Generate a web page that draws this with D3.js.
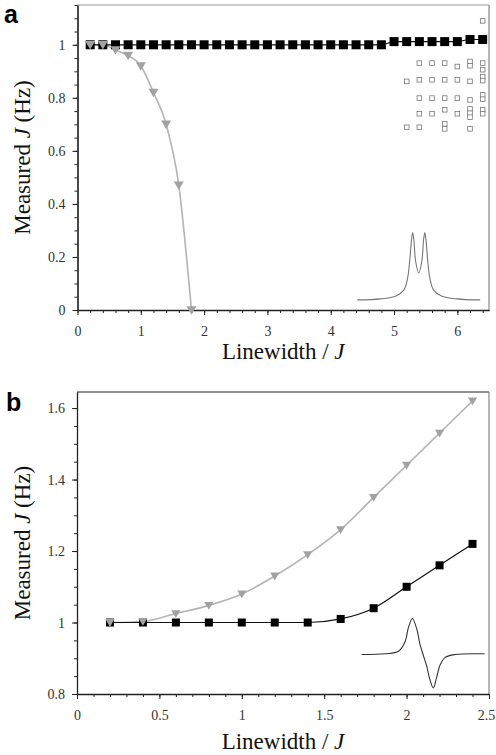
<!DOCTYPE html>
<html>
<head>
<meta charset="utf-8">
<script src="https://cdn.jsdelivr.net/npm/d3@7"></script>
<style>
  html, body { margin: 0; padding: 0; background: #fff; }
  .axis path, .axis line { stroke: #222; }
  .title { font-family: "Liberation Serif", serif; font-size: 23px; fill: #111; }
  .letter { font-family: "Liberation Sans", Arial, sans-serif; font-size: 25px; font-weight: bold; fill: #000; }
</style>
</head>
<body>
<div id="chart"></div>
<script>
// ---- panel a data ----
const aX = [0.2,0.4,0.6,0.8,1.0,1.2,1.4,1.6,1.8,2.0,2.2,2.4,2.6,2.8,3.0,3.2,3.4,3.6,3.8,4.0,4.2,4.4,4.6,4.8,5.0,5.2,5.4,5.6,5.8,6.0,6.2,6.4];
const aSquares = [1,1,1,1,1,1,1,1,1,1,1,1,1,1,1,1,1,1,1,1,1,1,1,1,1.012,1.012,1.012,1.012,1.012,1.012,1.02,1.02];
const aTriX = [0.2,0.4,0.6,0.8,1.0,1.2,1.4,1.6,1.8];
const aTri = [1,1,0.98,0.96,0.92,0.82,0.70,0.47,0];
const aOpenX = [6.4,
  5.4,5.6,5.8,6.0,6.2,6.2,6.4,6.4,
  5.2,5.4,5.6,5.8,6.0,6.2,6.4,6.4,
  5.4,5.6,5.8,6.0,6.2,6.4,6.4,
  5.4,5.6,5.8,6.0,6.2,6.2,6.2,6.4,6.4,
  5.2,5.4,5.8,5.8,6.2];
const aOpenY = [1.09,
  0.931,0.931,0.931,0.918,0.937,0.921,0.931,0.906,
  0.862,0.868,0.868,0.868,0.868,0.862,0.880,0.865,
  0.799,0.799,0.799,0.799,0.792,0.811,0.795,
  0.740,0.740,0.755,0.740,0.758,0.742,0.727,0.755,0.740,
  0.689,0.689,0.702,0.683,0.683];
const aYTicks = [0,0.2,0.4,0.6,0.8,1];
const aYLabels = ["0","0.2","0.4","0.6","0.8","1"];
const aXTicks = [0,1,2,3,4,5,6];
const aXLabels = ["0","1","2","3","4","5","6"];
const aInsetFreq = [-10,-6.2,-3.7,-2.4,-1.8,-1.45,-1.2,-1.0,-0.8,-0.5,0,0.5,0.8,1.0,1.2,1.45,1.8,2.4,3.7,6.2,10];
const aInsetInt = [0,0.015,0.06,0.15,0.33,0.6,0.87,1.0,0.9,0.57,0.40,0.57,0.9,1.0,0.87,0.6,0.33,0.15,0.06,0.015,0];

// ---- panel b data ----
const bX = [0.2,0.4,0.6,0.8,1.0,1.2,1.4,1.6,1.8,2.0,2.2,2.4];
const bSquares = [1,1,1,1,1,1,1,1.01,1.04,1.10,1.16,1.22];
const bTri = [1.0,1.003,1.025,1.048,1.08,1.13,1.19,1.26,1.35,1.44,1.53,1.62];
const bYTicks = [0.8,1,1.2,1.4,1.6];
const bYLabels = ["0.8","1","1.2","1.4","1.6"];
const bXTicks = [0,0.5,1,1.5,2,2.5];
const bXLabels = ["0","0.5","1","1.5","2","2.5"];
const bInsetFreq = [-10,-6.2,-4.0,-2.9,-2.4,-1.74,-1.0,-0.5,0,0.6,1.1,1.67,2.2,2.8,3.6,5.2,10];
const bInsetInt = [0,0.02,0.09,0.37,0.74,1.0,0.69,0.28,0,-0.33,-0.69,-0.93,-0.64,-0.28,-0.08,0,0.02];

const W = 496, H = 755;
const svg = d3.select("#chart").append("svg")
  .attr("width", W).attr("height", H);

function range(a, b, step) {
  const out = [];
  for (let v = a; v <= b + 1e-9; v += step) out.push(+v.toFixed(3));
  return out;
}

function styleAxis(sel) {
  sel.attr("font-family", "'Liberation Serif', serif").attr("font-size", 14);
  sel.selectAll("text").attr("fill", "#333");
  sel.select(".domain").attr("stroke-width", 1.3);
}

function drawPanel(cfg) {
  const x = d3.scaleLinear().domain(cfg.xDomain).range([cfg.left, cfg.right]);
  const y = d3.scaleLinear().domain(cfg.yDomain).range([cfg.bottom, cfg.top]);
  const g = svg.append("g");

  // frame (top / right)
  g.append("line").attr("x1", cfg.left).attr("x2", cfg.right).attr("y1", cfg.top).attr("y2", cfg.top)
    .attr("stroke", cfg.topColor).attr("stroke-width", 1.2);
  g.append("line").attr("x1", cfg.right).attr("x2", cfg.right).attr("y1", cfg.top).attr("y2", cfg.bottom)
    .attr("stroke", "#888").attr("stroke-width", 1.2);

  // minor ticks
  g.append("g").attr("class", "axis").attr("transform", `translate(0,${cfg.bottom})`)
    .call(d3.axisBottom(x).tickValues(cfg.xMinor).tickSize(3).tickSizeOuter(0).tickFormat(""));
  g.append("g").attr("class", "axis").attr("transform", `translate(${cfg.left},0)`)
    .call(d3.axisLeft(y).tickValues(cfg.yMinor).tickSize(3).tickSizeOuter(0).tickFormat(""));

  // major ticks
  const xAx = g.append("g").attr("class", "axis").attr("transform", `translate(0,${cfg.bottom})`)
    .call(d3.axisBottom(x).tickValues(cfg.xTicks).tickSize(5).tickSizeOuter(0).tickPadding(11)
      .tickFormat((d, i) => cfg.xLabels[i]))
    .call(styleAxis);
  // keep the last label inside the picture
  xAx.selectAll(".tick:last-of-type text").attr("dx", cfg.lastLabelDx || 0);
  g.append("g").attr("class", "axis").attr("transform", `translate(${cfg.left},0)`)
    .call(d3.axisLeft(y).tickValues(cfg.yTicks).tickSize(5).tickSizeOuter(0).tickPadding(7)
      .tickFormat((d, i) => cfg.yLabels[i]))
    .call(styleAxis);

  // inset spectrum
  const ix = d3.scaleLinear().domain([-10, 10]).range([x(cfg.inset.x0), x(cfg.inset.x1)]);
  const iy = d3.scaleLinear().domain([0, 1]).range([y(cfg.inset.y0), y(cfg.inset.y1)]);
  g.append("path")
    .datum(cfg.inset.freq.map((f, i) => [f, cfg.inset.int[i]]))
    .attr("fill", "none").attr("stroke", cfg.inset.color).attr("stroke-width", 1.1)
    .attr("d", d3.line().x(d => ix(d[0])).y(d => iy(d[1])).curve(d3.curveCatmullRom.alpha(0.5)));

  const sq = cfg.sqX.map((v, i) => [v, cfg.sq[i]]);
  const tri = cfg.triX.map((v, i) => [v, cfg.tri[i]]);
  const line = d3.line().x(d => x(d[0])).y(d => y(d[1])).curve(d3.curveMonotoneX);

  g.append("path").datum(tri).attr("fill", "none").attr("stroke", "#b4b4b4").attr("stroke-width", 1.6).attr("d", line);
  g.append("path").datum(sq).attr("fill", "none").attr("stroke", "#111").attr("stroke-width", 1.2).attr("d", line);

  const s = cfg.sqSize;
  g.selectAll(null).data(sq).enter().append("rect")
    .attr("x", d => x(d[0]) - s / 2).attr("y", d => y(d[1]) - s / 2)
    .attr("width", s).attr("height", s).attr("fill", "#000");

  const t = cfg.triSize;
  g.selectAll(null).data(tri).enter().append("path")
    .attr("transform", d => `translate(${x(d[0])},${y(d[1])})`)
    .attr("d", `M${-t},${-t * 0.75}L${t},${-t * 0.75}L0,${t * 0.95}Z`)
    .attr("fill", "#a2a2a2");

  if (cfg.openX) {
    const o = 4.6;
    g.selectAll(null).data(cfg.openX.map((v, i) => [v, cfg.openY[i]])).enter().append("rect")
      .attr("x", d => x(d[0]) - o / 2).attr("y", d => y(d[1]) - o / 2)
      .attr("width", o).attr("height", o)
      .attr("fill", "#fff").attr("stroke", "#777").attr("stroke-width", 0.8);
  }

  // axis titles
  const yt = svg.append("text").attr("class", "title")
    .attr("text-anchor", "middle")
    .attr("transform", `translate(30,${(cfg.top + cfg.bottom) / 2}) rotate(-90)`);
  yt.append("tspan").text("Measured ");
  yt.append("tspan").attr("font-style", "italic").text("J");
  yt.append("tspan").text(" (Hz)");

  const xt = svg.append("text").attr("class", "title")
    .attr("text-anchor", "middle")
    .attr("x", (cfg.left + cfg.right) / 2).attr("y", cfg.xTitleY);
  xt.append("tspan").text("Linewidth / ");
  xt.append("tspan").attr("font-style", "italic").text("J");

  svg.append("text").attr("class", "letter").attr("x", cfg.letterX).attr("y", cfg.letterY).text(cfg.letter);
}

drawPanel({
  left: 77.5, right: 489, top: 5, bottom: 310,
  xDomain: [0, 6.5], yDomain: [0, 1.15],
  xTicks: aXTicks, xLabels: aXLabels, yTicks: aYTicks, yLabels: aYLabels,
  xMinor: range(0, 6.4, 0.2), yMinor: range(0, 1.15, 0.05),
  topColor: "#999",
  sqX: aX, sq: aSquares, triX: aTriX, tri: aTri, sqSize: 9, triSize: 5,
  openX: aOpenX, openY: aOpenY,
  inset: { freq: aInsetFreq, int: aInsetInt, x0: 4.42, x1: 6.36, y0: 0.038, y1: 0.292, color: "#777" },
  xTitleY: 359, letter: "a", letterX: 4, letterY: 23
});

drawPanel({
  left: 77, right: 489, top: 392, bottom: 694,
  xDomain: [0, 2.5], yDomain: [0.8, 1.645],
  xTicks: bXTicks, xLabels: bXLabels, yTicks: bYTicks, yLabels: bYLabels,
  xMinor: range(0, 2.5, 0.1), yMinor: range(0.8, 1.6, 0.05),
  topColor: "#222", lastLabelDx: -3,
  sqX: bX, sq: bSquares, triX: bX, tri: bTri, sqSize: 8, triSize: 4.6,
  inset: { freq: bInsetFreq, int: bInsetInt, x0: 1.727, x1: 2.473, y0: 0.9105, y1: 1.0112, color: "#333" },
  xTitleY: 749, letter: "b", letterX: 6, letterY: 411
});
</script>
</body>
</html>
